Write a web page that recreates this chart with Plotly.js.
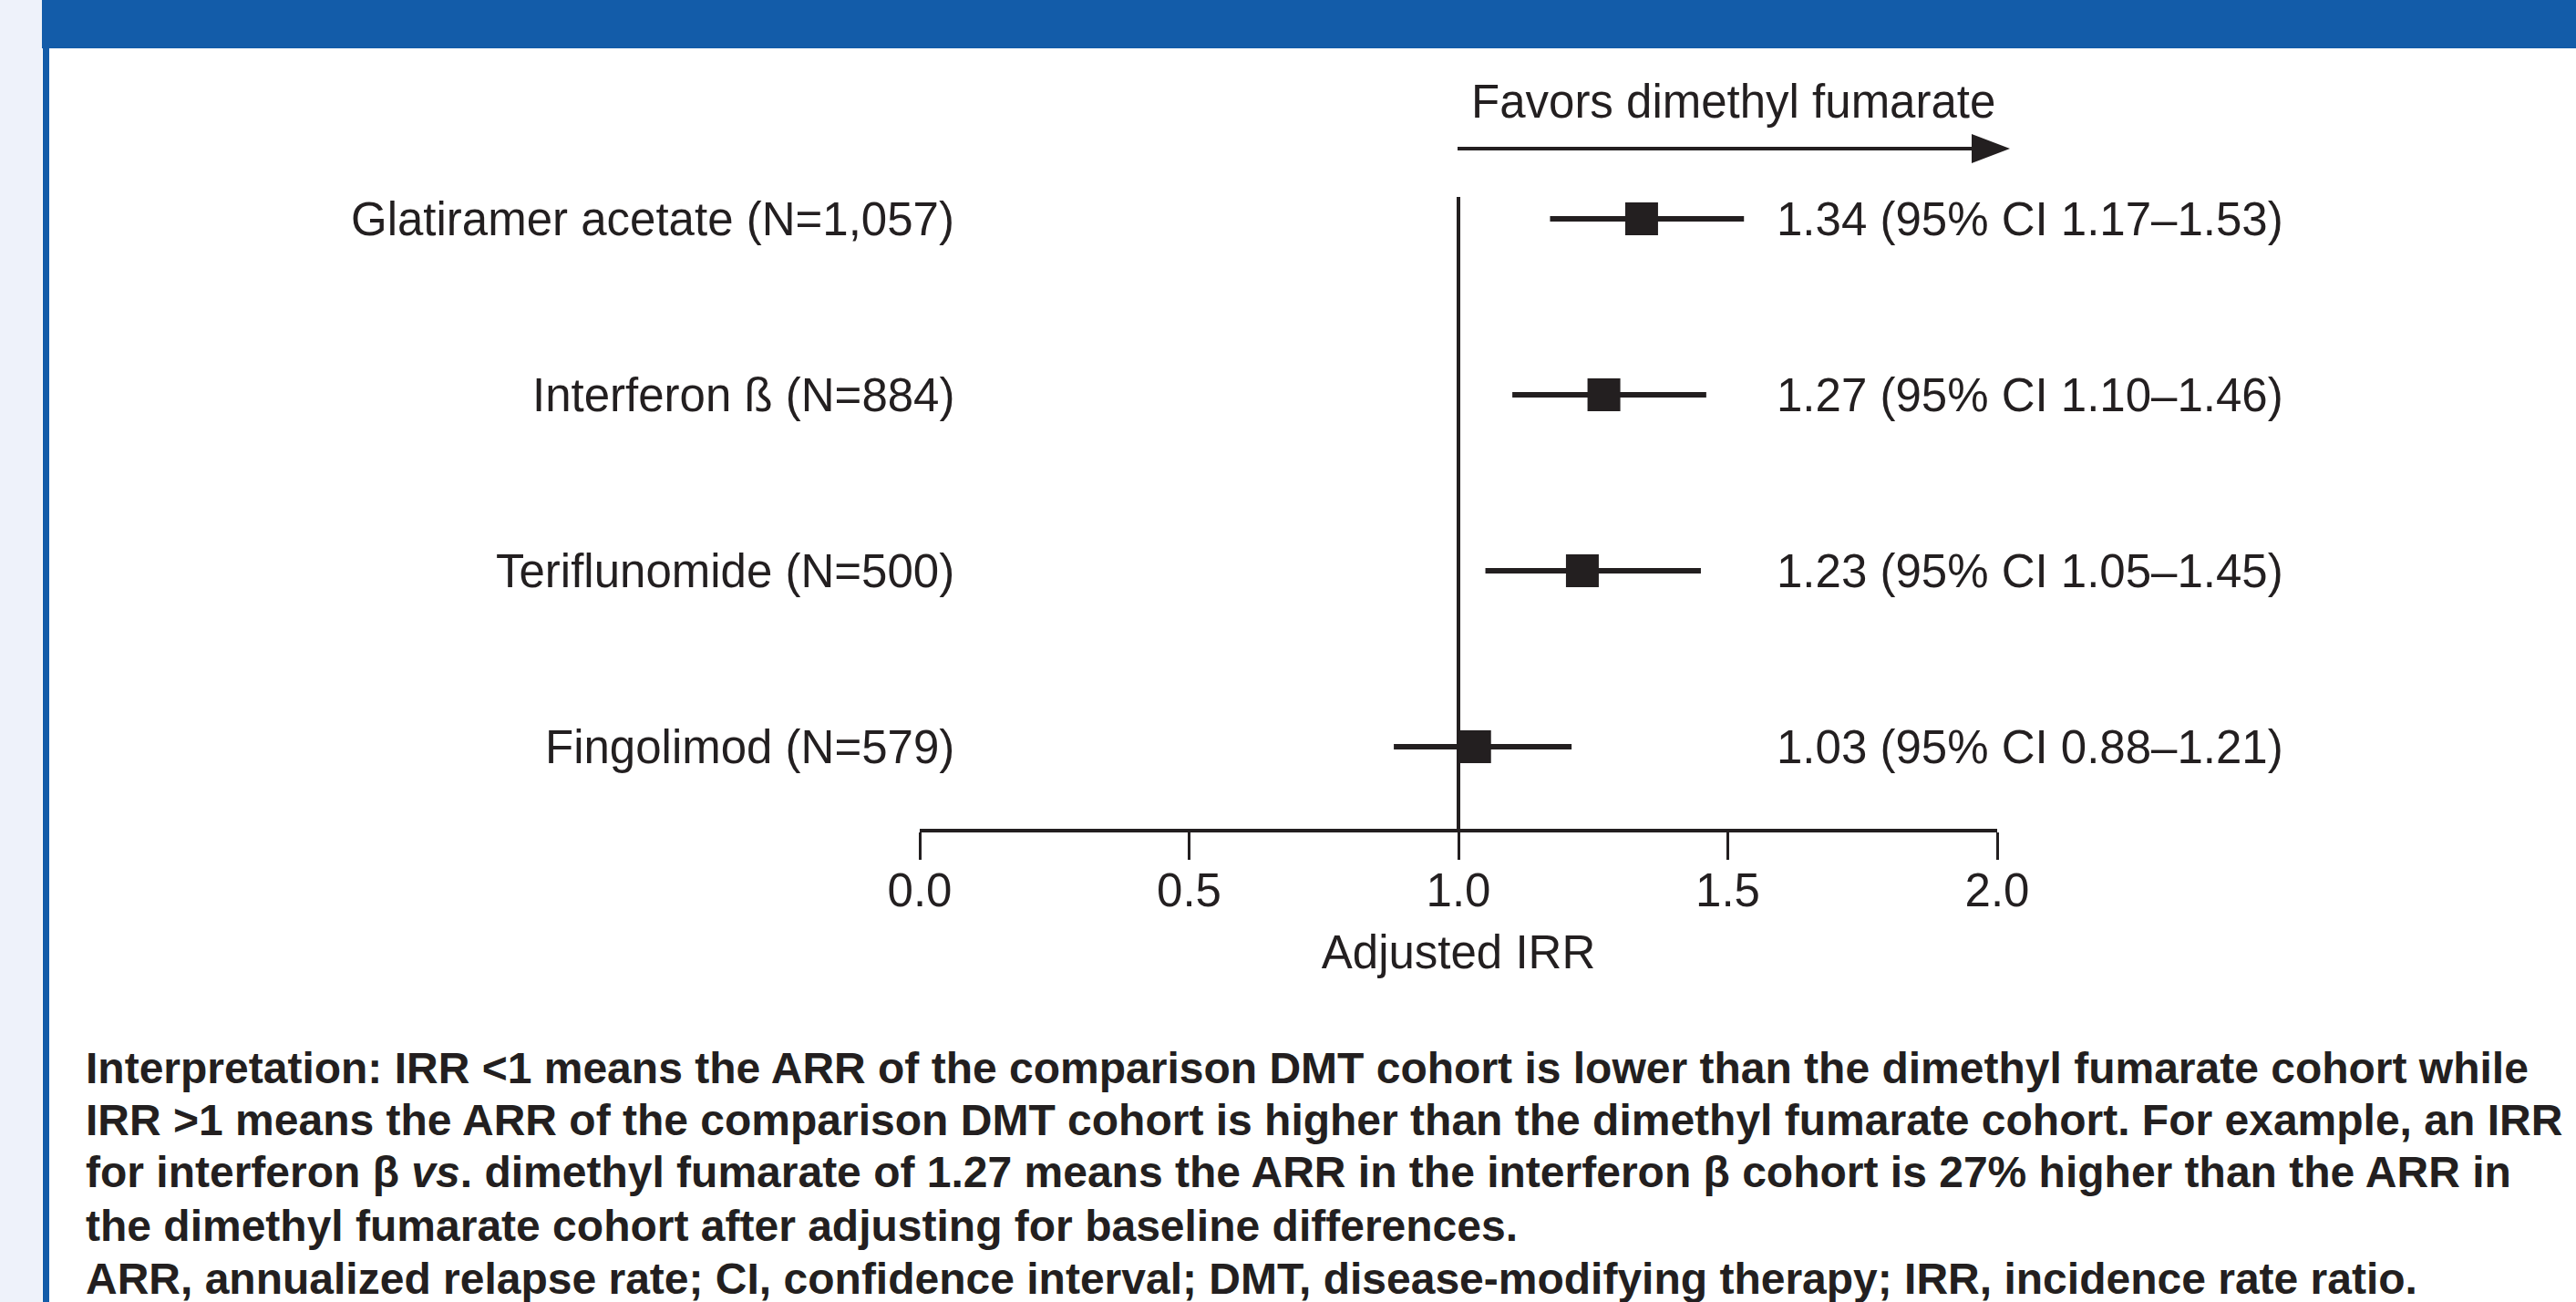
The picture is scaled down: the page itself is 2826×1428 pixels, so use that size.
<!DOCTYPE html>
<html>
<head>
<meta charset="utf-8">
<script src="https://cdn.plot.ly/plotly-3.0.1.min.js"></script>
<style>html,body{margin:0;padding:0;background:#fff;}#chart{width:2826px;height:1428px;}</style>
</head>
<body>
<div id="chart"></div>
<script>
// ---- data ----
const categories = ['Glatiramer acetate (N=1,057)', 'Interferon ß (N=884)', 'Teriflunomide (N=500)', 'Fingolimod (N=579)'];
const irr = [1.34, 1.27, 1.23, 1.03];
const ciLower = [1.17, 1.10, 1.05, 0.88];
const ciUpper = [1.53, 1.46, 1.45, 1.21];
const tickVals = [0, 0.5, 1.0, 1.5, 2.0];
const tickLabels = ['0.0', '0.5', '1.0', '1.5', '2.0'];
const xTitle = 'Adjusted IRR';
const favorsLabel = 'Favors dimethyl fumarate';
const footLines = [
  'Interpretation: IRR <1 means the ARR of the comparison DMT cohort is lower than the dimethyl fumarate cohort while',
  'IRR >1 means the ARR of the comparison DMT cohort is higher than the dimethyl fumarate cohort. For example, an IRR',
  'for interferon β <i>vs</i>. dimethyl fumarate of 1.27 means the ARR in the interferon β cohort is 27% higher than the ARR in',
  'the dimethyl fumarate cohort after adjusting for baseline differences.',
  'ARR, annualized relapse rate; CI, confidence interval; DMT, disease-modifying therapy; IRR, incidence rate ratio.'
];

// ---- layout geometry (pixels) ----
const W = 2826, H = 1428, L = 1009, R = 2191, T = 40, B = 909;
const px2x = p => (p - L) / (R - L);
const py2y = p => (B - p) / (B - T);
const ink = '#231f20';
const FONT = '"Liberation Sans", Arial, Helvetica, sans-serif';

const rowTop = 240, rowBottom = 819;
const n = categories.length;
const rowStep = (rowBottom - rowTop) / (n - 1);
const yPos = categories.map((c, i) => n - 1 - i);
const yTop = (rowBottom - T) / rowStep;   // range top
const yBot = -(B - rowBottom) / rowStep;  // range bottom (axis line)

const trace = {
  type: 'scatter', mode: 'markers',
  x: irr, y: yPos,
  marker: {symbol: 'square', size: 36, color: ink},
  error_x: {
    type: 'data', symmetric: false,
    array: irr.map((v, i) => ciUpper[i] - v),
    arrayminus: irr.map((v, i) => v - ciLower[i]),
    thickness: 6, width: 0, color: ink
  },
  hoverinfo: 'skip', showlegend: false, cliponaxis: false
};

const annotations = [];
categories.forEach((c, i) => {
  annotations.push({xref: 'x', yref: 'y', x: 0, y: yPos[i], xanchor: 'right', yanchor: 'middle',
    xshift: 40, text: c, showarrow: false, font: {family: FONT, size: 51, color: ink}});
  annotations.push({xref: 'paper', yref: 'y', x: px2x(1947), y: yPos[i], xanchor: 'left', yanchor: 'middle',
    text: irr[i].toFixed(2) + ' (95% CI ' + ciLower[i].toFixed(2) + '–' + ciUpper[i].toFixed(2) + ')',
    showarrow: false, font: {family: FONT, size: 51, color: ink}});
});
annotations.push({xref: 'paper', yref: 'paper', x: px2x(1612), y: py2y(112), xanchor: 'left', yanchor: 'middle',
  text: favorsLabel, showarrow: false, font: {family: FONT, size: 51, color: ink}});
const baselines = [1188, 1245, 1302, 1361, 1419];
footLines.forEach((t, i) => {
  annotations.push({xref: 'paper', yref: 'paper', x: px2x(92), y: py2y(baselines[i] - 16.7), xanchor: 'left', yanchor: 'middle',
    text: '<b>' + t + '</b>', showarrow: false, align: 'left', font: {family: FONT, size: 48, color: ink}});
});

const shapes = [
  // page decorations
  {type: 'rect', xref: 'paper', yref: 'paper', x0: px2x(0), x1: px2x(46), y0: py2y(0), y1: py2y(H), fillcolor: '#eef2fa', line: {width: 0}, layer: 'below'},
  {type: 'rect', xref: 'paper', yref: 'paper', x0: px2x(46), x1: px2x(W), y0: py2y(0), y1: py2y(53), fillcolor: '#135ca9', line: {width: 0}, layer: 'below'},
  {type: 'rect', xref: 'paper', yref: 'paper', x0: px2x(47), x1: px2x(54), y0: py2y(53), y1: py2y(H), fillcolor: '#135ca9', line: {width: 0}, layer: 'below'},
  // reference line at IRR = 1
  {type: 'line', xref: 'x', yref: 'y', x0: 1, x1: 1, y0: yBot, y1: (rowBottom - 216) / rowStep, line: {color: ink, width: 4}, layer: 'below'},
  // favors arrow
  {type: 'line', xref: 'paper', yref: 'paper', x0: px2x(1599), x1: px2x(2170), y0: py2y(163), y1: py2y(163), line: {color: ink, width: 4}},
  {type: 'path', xref: 'paper', yref: 'paper',
    path: 'M' + px2x(2163) + ',' + py2y(147) + ' L' + px2x(2205) + ',' + py2y(163) + ' L' + px2x(2163) + ',' + py2y(179) + ' Z',
    fillcolor: ink, line: {width: 0}}
];

const layout = {
  width: W, height: H,
  margin: {l: L, r: W - R, t: T, b: H - B, pad: 0},
  paper_bgcolor: '#ffffff', plot_bgcolor: 'rgba(0,0,0,0)',
  font: {family: FONT, color: ink, size: 51},
  xaxis: {
    range: [0, 2], tickmode: 'array', tickvals: tickVals, ticktext: tickLabels,
    showline: true, linewidth: 4, linecolor: ink, ticks: 'outside', ticklen: 30, tickwidth: 3, tickcolor: ink,
    showgrid: false, zeroline: false, tickfont: {family: FONT, size: 51, color: ink},
    ticklabelstandoff: -10,
    title: {text: xTitle, font: {family: FONT, size: 51, color: ink}, standoff: 23},
    fixedrange: true
  },
  yaxis: {range: [yBot, yTop], visible: false, fixedrange: true},
  shapes: shapes, annotations: annotations, showlegend: false
};

Plotly.newPlot('chart', [trace], layout, {staticPlot: true, displayModeBar: false});
</script>
</body>
</html>
